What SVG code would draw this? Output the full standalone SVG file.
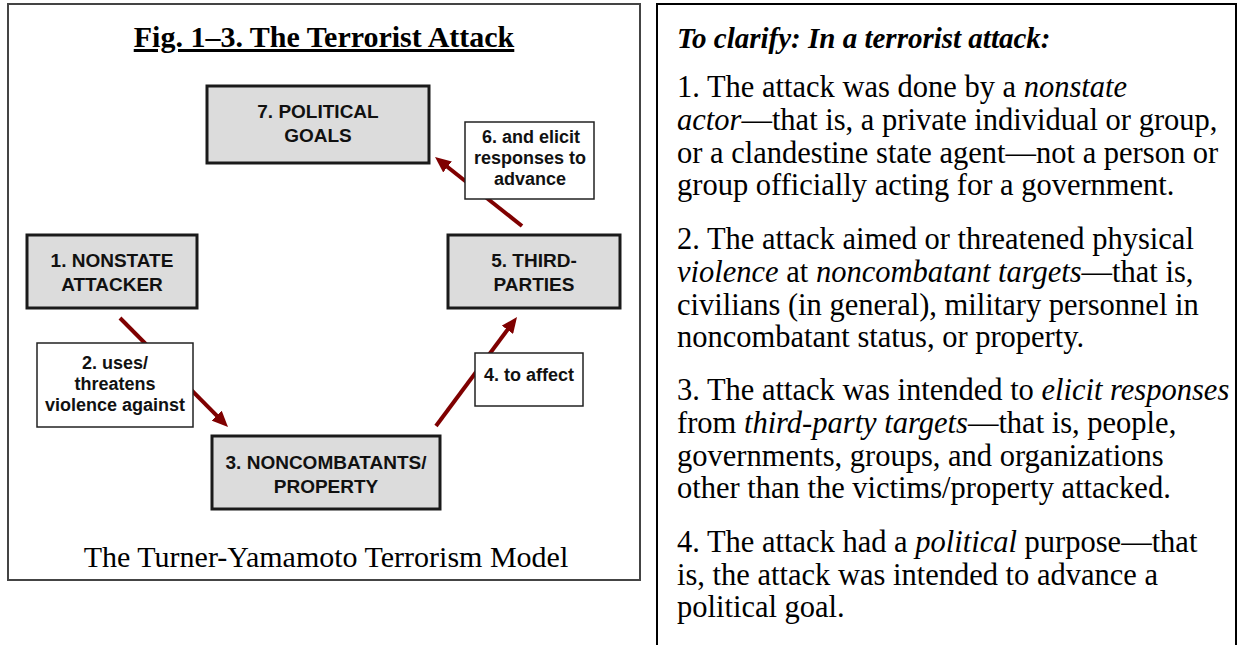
<svg xmlns="http://www.w3.org/2000/svg" width="1238" height="645" viewBox="0 0 1238 645">
<defs>
<style>
.frame{fill:#fff;stroke:#444;stroke-width:2}
.panel{fill:none;stroke:#000;stroke-width:2}
.node rect{fill:#dcdcdc;stroke:#1a1a1a;stroke-width:3}
.node text{font-family:"Liberation Sans",Arial,sans-serif;font-weight:bold;font-size:19px;fill:#111;text-anchor:middle}
.lbl rect{fill:#fff;stroke:#222;stroke-width:1.5}
.lbl text{font-family:"Liberation Sans",Arial,sans-serif;font-weight:bold;font-size:18px;fill:#111;text-anchor:middle}
.conn line{stroke:#7f0000;stroke-width:4;marker-end:url(#ah)}
.serif{font-family:"Liberation Serif","Times New Roman",serif;fill:#000}
.body{font-size:30.5px}
.it{font-style:italic}
</style>
<marker id="ah" viewBox="0 0 16 14" markerUnits="userSpaceOnUse" markerWidth="16" markerHeight="14" refX="6" refY="7" orient="auto">
<path d="M0,0 L16,7 L0,14 z" fill="#7f0000"/>
</marker>
</defs>
<rect width="1238" height="645" fill="#fff"/>
<g id="figure-frame">
<rect class="frame" x="8" y="4" width="632" height="576"/>
<text class="serif" x="324" y="47" font-size="30" font-weight="bold" text-anchor="middle" text-decoration="underline">Fig. 1–3. The Terrorist Attack</text>
<text class="serif" x="326" y="567" font-size="30" text-anchor="middle">The Turner-Yamamoto Terrorism Model</text>
</g>
<g id="connectors" class="conn">
<line x1="120" y1="318" x2="220.96" y2="419.89"/>
<line x1="436" y1="426" x2="511.04" y2="325.03"/>
<line x1="522" y1="226" x2="442.84" y2="163.22"/>
</g>
<g id="node-7" class="node">
<rect x="207" y="86" width="222" height="77"/>
<text x="318" y="118">7. POLITICAL</text>
<text x="318" y="142">GOALS</text>
</g>
<g id="node-1" class="node">
<rect x="27" y="235" width="170" height="73"/>
<text x="112" y="267">1. NONSTATE</text>
<text x="112" y="291">ATTACKER</text>
</g>
<g id="node-5" class="node">
<rect x="448" y="235" width="172" height="73"/>
<text x="534" y="267">5. THIRD-</text>
<text x="534" y="291">PARTIES</text>
</g>
<g id="node-3" class="node">
<rect x="212" y="436" width="228" height="73"/>
<text x="326" y="469">3. NONCOMBATANTS/</text>
<text x="326" y="493">PROPERTY</text>
</g>
<g id="label-6" class="lbl">
<rect x="465" y="122" width="129" height="77"/>
<text x="531" y="143">6. and elicit</text>
<text x="530" y="164">responses to</text>
<text x="530" y="185">advance</text>
</g>
<g id="label-2" class="lbl">
<rect x="37" y="343" width="156" height="84"/>
<text x="115" y="369">2. uses/</text>
<text x="115" y="390">threatens</text>
<text x="115" y="411">violence against</text>
</g>
<g id="label-4" class="lbl">
<rect x="475" y="353" width="108" height="53"/>
<text x="529" y="381">4. to affect</text>
</g>
<g id="clarify-panel">
<path class="panel" d="M657,645 V4 H1236 V645"/>
<text class="serif" x="677" y="48" font-size="29" font-weight="bold" font-style="italic">To clarify: In a terrorist attack:</text>
<g class="serif body">
<text x="677" y="97">1. The attack was done by a <tspan class="it">nonstate</tspan></text>
<text x="677" y="130"><tspan class="it">actor</tspan>—that is, a private individual or group,</text>
<text x="677" y="163">or a clandestine state agent—not a person or</text>
<text x="677" y="195">group officially acting for a government.</text>
<text x="677" y="249">2. The attack aimed or threatened physical</text>
<text x="677" y="282"><tspan class="it">violence</tspan> at <tspan class="it">noncombatant targets</tspan>—that is,</text>
<text x="677" y="315">civilians (in general), military personnel in</text>
<text x="677" y="347">noncombatant status, or property.</text>
<text x="677" y="400">3. The attack was intended to <tspan class="it">elicit responses</tspan></text>
<text x="677" y="433">from <tspan class="it">third-party targets</tspan>—that is, people,</text>
<text x="677" y="466">governments, groups, and organizations</text>
<text x="677" y="498">other than the victims/property attacked.</text>
<text x="677" y="552">4. The attack had a <tspan class="it">political</tspan> purpose—that</text>
<text x="677" y="585">is, the attack was intended to advance a</text>
<text x="677" y="617">political goal.</text>
</g>
</g>
</svg>
